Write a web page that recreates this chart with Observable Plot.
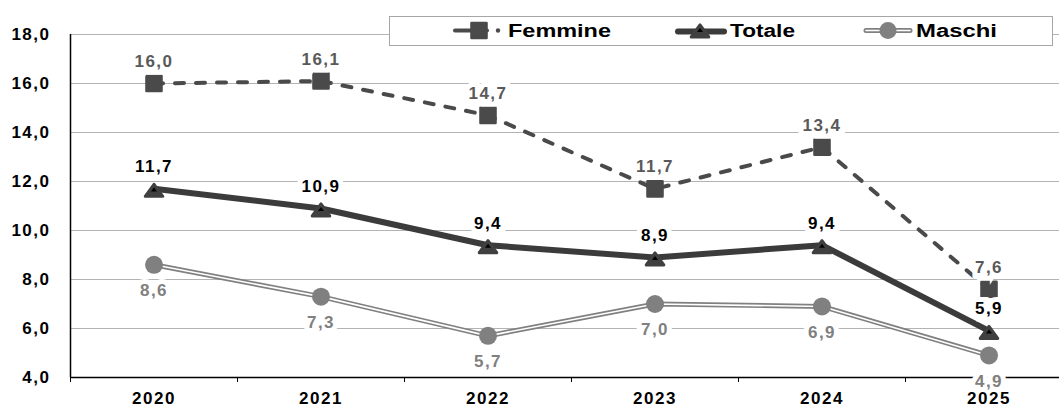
<!DOCTYPE html>
<html><head><meta charset="utf-8">
<script src="https://cdn.jsdelivr.net/npm/d3@7"></script>
<script src="https://cdn.jsdelivr.net/npm/@observablehq/plot@0.6"></script>
<style>
body{margin:0;background:#fff;overflow:hidden}
#wrap{position:relative;width:1059px;height:407px;font-family:"Liberation Sans",Arial,sans-serif}
#wrap svg.chart text{letter-spacing:1.5px}
#legend{position:absolute;left:389px;top:16px}
</style></head><body><div id="wrap"></div>
<script>
const years = [2020, 2021, 2022, 2023, 2024, 2025];
const femmine = [16.0, 16.1, 14.7, 11.7, 13.4, 7.6];
const totale = [11.7, 10.9, 9.4, 8.9, 9.4, 5.9];
const maschi = [8.6, 7.3, 5.7, 7.0, 6.9, 4.9];
const yTicks = [4, 6, 8, 10, 12, 14, 16, 18];
const seriesNames = ["Femmine", "Totale", "Maschi"];

const rows = vals => years.map((y, i) => ({year: y, value: vals[i]}));
const F = rows(femmine), T = rows(totale), M = rows(maschi);
const fmt = v => v.toFixed(1).replace(".", ",");
const xy = {x: "year", y: "value"};
const cF = "#4a4a4a", cT = "#3b3b3b", cTm = "#404040", cM = "#808080";

// wide, flat triangle symbol (like the reference markers)
const wideTriangle = {
  draw(ctx, size) {
    const r = Math.sqrt(size / Math.PI);
    ctx.moveTo(0, -0.7 * r);
    ctx.lineTo(1.35 * r, 1.15 * r);
    ctx.lineTo(-1.35 * r, 1.15 * r);
    ctx.closePath();
  }
};

const chart = Plot.plot({
  width: 1059, height: 407,
  marginLeft: 70, marginRight: 0, marginTop: 34, marginBottom: 30,
  style: {fontFamily: "'Liberation Sans', Arial, sans-serif", fontSize: "17px", fontWeight: "bold", color: "black", background: "white"},
  x: {type: "linear", domain: [2019.5, 2025.5], range: [70, 1072]},
  y: {domain: [4, 18]},
  marks: [
    Plot.ruleY(yTicks.filter(d => d > 4), {stroke: "#b3b3b3", strokeWidth: 1}),
    Plot.axisY({ticks: yTicks, tickSize: 0, tickPadding: 20, tickFormat: fmt, label: null}),
    Plot.axisX({ticks: years.map(y => y - 0.5), tickSize: 5, tickFormat: () => "", label: null}),
    Plot.ruleY([4], {stroke: "black", strokeWidth: 1.5}),
    Plot.ruleX([2019.5], {y1: 4, y2: 18, stroke: "black", strokeWidth: 1.5}),
    // Maschi
    Plot.line(M, {...xy, stroke: cM, strokeWidth: 5}),
    Plot.line(M, {...xy, stroke: "white", strokeWidth: 1.6}),
    Plot.dot(M, {...xy, r: 9, fill: cM}),
    // Totale
    Plot.line(T, {...xy, stroke: cT, strokeWidth: 6}),
    Plot.dot(T, {...xy, symbol: wideTriangle, r: 6.5, fill: cTm, stroke: cTm, strokeWidth: 3, strokeLinejoin: "round"}),
    Plot.dot(T, {...xy, symbol: wideTriangle, r: 2.2, fill: "black"}),
    // Femmine
    Plot.line(F, {...xy, stroke: cF, strokeWidth: 4, strokeDasharray: "9,12", strokeLinecap: "round"}),
    Plot.dot(F, {...xy, symbol: "square", r: 8.5, fill: cF, stroke: cF, strokeWidth: 2.5, strokeLinejoin: "round"}),
    // labels
    Plot.text(M, {...xy, text: d => fmt(d.value), dy: 26, fill: cM, stroke: "white", strokeWidth: 10, strokeLinejoin: "miter", fontSize: 17, fontWeight: "bold"}),
    Plot.text(T, {...xy, text: d => fmt(d.value), dy: -22, fill: "black", stroke: "white", strokeWidth: 10, strokeLinejoin: "miter", fontSize: 17, fontWeight: "bold"}),
    Plot.text(F, {...xy, text: d => fmt(d.value), dy: -22, fill: "#595959", stroke: "white", strokeWidth: 10, strokeLinejoin: "miter", fontSize: 17, fontWeight: "bold"}),
    // year labels on top (they cover the 4,9 label's lower edge as in the reference)
    Plot.text(years, {x: d => d, y: () => 4, text: d => String(d), dy: 21, fill: "black", stroke: "white", strokeWidth: 4, fontSize: 17, fontWeight: "bold"})
  ]
});
chart.classList.add("chart");
document.getElementById("wrap").appendChild(chart);

// Legend overlay
const lg = d3.select("#wrap").append("svg").attr("id", "legend").attr("width", 666).attr("height", 31);
lg.append("rect").attr("x", 0.5).attr("y", 0.5).attr("width", 663).attr("height", 29)
  .attr("fill", "white").attr("stroke", "#a6a6a6");
const cy = 14.5;
const sym = (type, r) => d3.symbol().type(type).size(Math.PI * r * r)();
// Femmine
lg.append("line").attr("x1", 66).attr("x2", 98).attr("y1", cy).attr("y2", cy).attr("stroke", cF).attr("stroke-width", 4).attr("stroke-linecap", "round");
lg.append("path").attr("d", sym(d3.symbolSquare, 8.5)).attr("transform", `translate(90,${cy})`).attr("fill", cF).attr("stroke", cF).attr("stroke-width", 2.5).attr("stroke-linejoin", "round");
lg.append("circle").attr("cx", 109).attr("cy", cy).attr("r", 2.2).attr("fill", cF);
// Totale
lg.append("line").attr("x1", 289).attr("x2", 335).attr("y1", cy + 1).attr("y2", cy + 1).attr("stroke", cT).attr("stroke-width", 6).attr("stroke-linecap", "round");
lg.append("path").attr("d", sym(wideTriangle, 6.5)).attr("transform", `translate(311,${cy - 1})`).attr("fill", cTm).attr("stroke", cTm).attr("stroke-width", 3).attr("stroke-linejoin", "round");
lg.append("path").attr("d", sym(wideTriangle, 2.2)).attr("transform", `translate(311,${cy - 1})`).attr("fill", "black");
// Maschi
lg.append("line").attr("x1", 477).attr("x2", 521).attr("y1", cy).attr("y2", cy).attr("stroke", cM).attr("stroke-width", 5).attr("stroke-linecap", "round");
lg.append("line").attr("x1", 477).attr("x2", 521).attr("y1", cy).attr("y2", cy).attr("stroke", "white").attr("stroke-width", 1.6).attr("stroke-linecap", "round");
lg.append("circle").attr("cx", 499).attr("cy", cy).attr("r", 8.5).attr("fill", cM);
const textX = [119, 341, 527], textLen = [103, 65, 81];
seriesNames.forEach((name, i) => {
  lg.append("text").attr("x", textX[i]).attr("y", 21).attr("textLength", textLen[i]).attr("lengthAdjust", "spacingAndGlyphs")
    .attr("font-family", "'Liberation Sans', Arial, sans-serif").attr("font-size", 18).attr("font-weight", "bold").attr("fill", "black").text(name);
});
</script>
</body></html>
